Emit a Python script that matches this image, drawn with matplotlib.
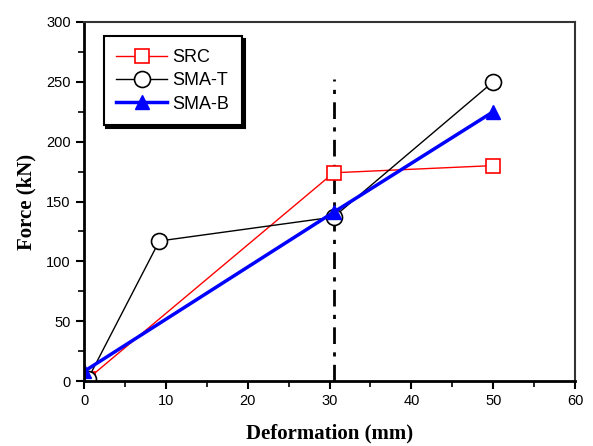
import matplotlib.pyplot as plt
from matplotlib.ticker import MultipleLocator

# deformation (mm) / force (kN) for each specimen
src_x = [0.5, 30.5, 50.0]
src_y = [2.0, 174.0, 180.0]
smat_x = [0.5, 9.2, 30.5, 50.0]
smat_y = [2.0, 117.0, 137.0, 250.0]
smab_x = [0.0, 30.5, 50.0]
smab_y = [8.0, 141.0, 225.0]

# reference line position
ref_x = 30.5
ref_top = 252.0

fig = plt.figure(figsize=(5.93, 4.46), dpi=100)
ax = fig.add_axes([0.1417, 0.1457, 0.828, 0.805])

ax.plot(src_x, src_y, color="red", lw=1.0, marker="s", ms=10,
        mfc="white", mec="red", mew=1.2, label="SRC")
ax.plot(smat_x, smat_y, color="black", lw=1.0, marker="o", ms=11.5,
        mfc="white", mec="black", mew=1.2, label="SMA-T")
ax.plot(smab_x, smab_y, color="blue", lw=2.5, marker="^", ms=10,
        mfc="blue", mec="blue", label="SMA-B")
ax.plot([ref_x, ref_x], [0, ref_top], color="black", lw=2.0,
        ls=(0, (6, 3, 1.5, 3)), zorder=1)

ax.set_xlim(0, 60)
ax.set_ylim(0, 300)
ax.xaxis.set_major_locator(MultipleLocator(10))
ax.xaxis.set_minor_locator(MultipleLocator(5))
ax.yaxis.set_major_locator(MultipleLocator(50))
ax.yaxis.set_minor_locator(MultipleLocator(25))
ax.tick_params(which="major", direction="out", length=6, width=1.5,
               labelsize=10.5)
ax.tick_params(which="minor", direction="out", length=4, width=1.2)
for lab in ax.get_xticklabels() + ax.get_yticklabels():
    lab.set_fontfamily("Liberation Sans")

for side in ["left", "bottom"]:
    ax.spines[side].set_linewidth(2.0)
for side in ["top", "right"]:
    ax.spines[side].set_linewidth(1.5)
    ax.spines[side].set_color("#333333")

ax.set_xlabel("Deformation (mm)", family="Liberation Serif",
              fontweight="bold", fontsize=15, labelpad=11)
ax.set_ylabel("Force (kN)", family="Liberation Serif",
              fontweight="bold", fontsize=15, labelpad=7)

leg = ax.legend(loc="upper left", bbox_to_anchor=(0.04, 0.96),
                frameon=True, fancybox=False,
                shadow={"color": "black", "alpha": 1.0},
                handlelength=2.8, handletextpad=0.3, borderpad=0.7,
                labelspacing=0.35, borderaxespad=0,
                prop={"family": "Liberation Sans", "size": 13})
leg.get_frame().set_edgecolor("black")
leg.get_frame().set_linewidth(1.5)

fig.savefig("out.png", dpi=100)
